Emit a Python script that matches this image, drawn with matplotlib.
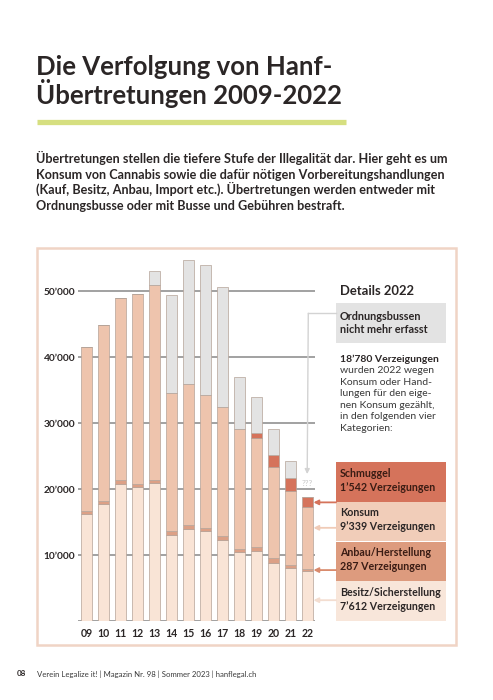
import numpy as np
import matplotlib.pyplot as plt
from matplotlib.patches import Rectangle

# ---------------------------------
# Data (Verzeigungen pro Jahr)
# ---------------------------------
years = ["09", "10", "11", "12", "13", "14", "15", "16", "17", "18", "19", "20", "21", "22"]
besitz = [16300, 17700, 20800, 20300, 21000, 13100, 13950, 13600, 12300, 10500, 10700, 8900, 8100, 7612]
anbau = [450, 550, 600, 450, 450, 550, 600, 500, 550, 500, 500, 700, 500, 287]
konsum = [24750, 26600, 27600, 28800, 29550, 20850, 21350, 20150, 19600, 18100, 16600, 13700, 11200, 9339]
schmuggel = [0, 0, 0, 0, 0, 0, 0, 0, 0, 0, 700, 1900, 1900, 1542]
ordnungsbussen = [0, 0, 0, 0, 2100, 14850, 18750, 19700, 18100, 7950, 5400, 3950, 2500, 0]

ticks = [10000, 20000, 30000, 40000, 50000]
tick_labels = ["10’000", "20’000", "30’000", "40’000", "50’000"]

c_besitz = "#f9e4d6"
c_anbau = "#dca086"
c_konsum = "#eec4ad"
c_schmuggel = "#d5735b"
c_grau = "#e3e3e3"
dark = "#2b2626"

plt.rcParams["font.family"] = ["Lato", "DejaVu Sans"]

fig = plt.figure(figsize=(4.93, 7.0), dpi=100)

# overlay in pixel coordinates (y down)
ov = fig.add_axes([0, 0, 1, 1], zorder=0)
ov.set_xlim(0, 493)
ov.set_ylim(700, 0)
ov.axis("off")

# ---------------------------------
# Title / intro / footer
# ---------------------------------
ov.text(36, 75, "Die Verfolgung von Hanf-", fontsize=18.5, fontweight="bold", color=dark, va="baseline")
ov.text(36, 104, "Übertretungen 2009-2022", fontsize=18.5, fontweight="bold", color=dark, va="baseline")
ov.plot([37, 346], [121.8, 121.8], color="#d6df80", lw=3.8, solid_capstyle="butt")

intro = [
    "Übertretungen stellen die tiefere Stufe der Illegalität dar. Hier geht es um",
    "Konsum von Cannabis sowie die dafür nötigen Vorbereitungshandlungen",
    "(Kauf, Besitz, Anbau, Import etc.). Übertretungen werden entweder mit",
    "Ordnungsbusse oder mit Busse und Gebühren bestraft.",
]
for i, line in enumerate(intro):
    ov.text(36, 163.3 + i * 15.4, line, fontsize=9.1, fontweight="bold", color=dark, va="baseline")

ov.text(17, 676.5, "08", fontsize=5.8, fontweight="bold", color=dark, va="baseline")
ov.text(37, 676.5, "Verein Legalize it! | Magazin Nr. 98 | Sommer 2023 | hanflegal.ch",
        fontsize=5.6, color="#3a3a3a", va="baseline")

# frame
ov.add_patch(Rectangle((37, 248), 419, 397, facecolor="white", edgecolor="#f0d4c5", lw=1.8))

# ---------------------------------
# Chart
# ---------------------------------
ax = fig.add_axes([78 / 493, 78.7 / 700, 237 / 493, 373.1 / 700], zorder=1)
ax.patch.set_visible(False)
x = np.arange(len(years))
ax.set_xlim(-0.513, 13.46)
ax.set_ylim(0, 56500)

for t in [0] + ticks:
    ax.axhline(t, color="#878787", lw=1.1, zorder=0)

bottom = np.zeros(len(years))
for vals, col in [(besitz, c_besitz), (anbau, c_anbau), (konsum, c_konsum),
                  (schmuggel, c_schmuggel), (ordnungsbussen, c_grau)]:
    vals = np.array(vals, dtype=float)
    ax.bar(x, vals, 0.65, bottom=bottom, color=col, edgecolor="#b5a398", lw=0.5, zorder=2)
    bottom += vals

for s in ax.spines.values():
    s.set_visible(False)
ax.set_xticks(x)
ax.set_xticklabels(years, fontsize=7.6, fontweight="bold", color=dark)
ax.set_yticks(ticks)
ax.set_yticklabels(tick_labels, fontsize=7.3, fontweight="bold", color=dark)
ax.tick_params(length=0)
ax.tick_params(axis="x", pad=5)
ax.tick_params(axis="y", pad=2)

# ---------------------------------
# Details 2022 panel
# ---------------------------------
bx, bw = 336, 110
fs_b = 7.7
ov.text(340, 295, "Details 2022", fontsize=9.4, fontweight="bold", color=dark, va="baseline")

ov.add_patch(Rectangle((bx, 303), bw, 40, facecolor=c_grau, edgecolor="none"))
ov.text(340, 320, "Ordnungsbussen", fontsize=7.8, fontweight="bold", color=dark, va="baseline")
ov.text(340, 333, "nicht mehr erfasst", fontsize=7.8, fontweight="bold", color=dark, va="baseline")

details = ["wurden 2022 wegen", "Konsum oder Hand-", "lungen für den eige-",
           "nen Konsum gezählt,", "in den folgenden vier", "Kategorien:"]
ov.text(340, 361.7, "18’780 Verzeigungen", fontsize=7.45, fontweight="bold", color=dark, va="baseline")
for i, line in enumerate(details):
    ov.text(340, 373.4 + i * 11.45, line, fontsize=7.5, color="#3a3a3a", va="baseline")

boxes = [
    ("Schmuggel", "1’542 Verzeigungen", c_schmuggel, 462.3, "#3a1c14"),
    ("Konsum", "9’339 Verzeigungen", "#f1cdb9", 501.7, dark),
    ("Anbau/Herstellung", "287 Verzeigungen", "#dd9b7e", 541.7, "#3a1c14"),
    ("Besitz/Sicherstellung", "7’612 Verzeigungen", "#f8e6da", 581.0, dark),
]
for name, count, col, top, tc in boxes:
    ov.add_patch(Rectangle((bx, top), bw, 39.5, facecolor=col, edgecolor="none"))
    ov.text(340, top + 14.5, name, fontsize=fs_b, fontweight="bold", color=tc, va="baseline")
    ov.text(340, top + 28.5, count, fontsize=fs_b, fontweight="bold", color=tc, va="baseline")

# arrows from the boxes to the 2022 bar segments
last = len(years) - 1
seg_bottom = [0, besitz[last], besitz[last] + anbau[last], besitz[last] + anbau[last] + konsum[last]]
seg_height = [besitz[last], anbau[last], konsum[last], schmuggel[last]]
fracs = [0.42, 0.5, 0.67, 0.5]
arrow_cols = ["#f3ddd0", "#d98a6c", "#f0cbb7", "#d5735b"]
for b, h, f, col in zip(seg_bottom, seg_height, fracs, arrow_cols):
    yv = b + f * h
    ypix = 700 - ax.transData.transform((0, yv))[1]
    ax.annotate("", xy=(last + 0.37, yv), xycoords="data",
                xytext=(bx, ypix), textcoords=ov.transData,
                arrowprops=dict(arrowstyle="-|>", color=col, lw=1.3,
                                mutation_scale=7, shrinkA=0, shrinkB=0),
                zorder=5, annotation_clip=False)

# Ordnungsbussen connector to 2022
ov.plot([bx, 308.3], [313.3, 313.3], color="#d3d3d3", lw=1.0)
ax.annotate("", xy=(last, 22300), xycoords="data",
            xytext=(308.3, 313.3), textcoords=ov.transData,
            arrowprops=dict(arrowstyle="-|>", color="#d3d3d3", lw=1.0,
                            mutation_scale=7, shrinkA=0, shrinkB=0),
            zorder=5, annotation_clip=False)
ax.text(last, 20900, "???", fontsize=6, color="#c8c8c8", ha="center", va="center", zorder=5)

fig.savefig("out.png", dpi=100)
